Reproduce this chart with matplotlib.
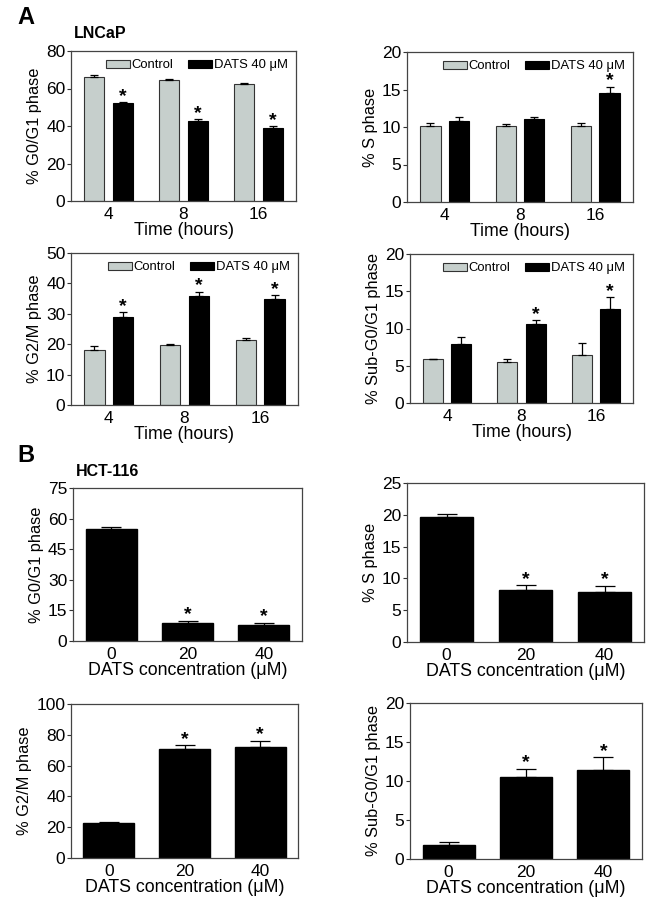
import numpy as np
import matplotlib
matplotlib.use("Agg")
import matplotlib.pyplot as plt

plt.rcParams['font.family'] = ['Liberation Sans', 'DejaVu Sans']

# Panel A - LNCaP, time course (hours)
time_labels = ["4", "8", "16"]
g1_ctrl = [66.2, 64.6, 62.5]
g1_ctrl_err = [1.0, 0.3, 0.5]
g1_dats = [52.2, 42.7, 38.8]
g1_dats_err = [0.7, 1.0, 1.0]

s_ctrl = [10.1, 10.2, 10.2]
s_ctrl_err = [0.4, 0.2, 0.4]
s_dats = [10.8, 11.1, 14.6]
s_dats_err = [0.5, 0.3, 0.8]

g2_ctrl = [18.2, 19.7, 21.5]
g2_ctrl_err = [1.1, 0.4, 0.5]
g2_dats = [28.8, 35.9, 35.0]
g2_dats_err = [1.8, 1.4, 1.2]

sub_ctrl = [5.85, 5.5, 6.5]
sub_ctrl_err = [0.1, 0.4, 1.6]
sub_dats = [7.9, 10.6, 12.65]
sub_dats_err = [1.0, 0.5, 1.6]

# Panel B - HCT-116, dose (uM)
dose_labels = ["0", "20", "40"]
hct_g1 = [55.0, 8.9, 8.0]
hct_g1_err = [0.8, 1.1, 1.0]
hct_s = [19.7, 8.2, 7.9]
hct_s_err = [0.4, 0.75, 0.95]
hct_g2 = [22.9, 70.5, 72.0]
hct_g2_err = [0.2, 2.9, 4.2]
hct_sub = [1.84, 10.5, 11.4]
hct_sub_err = [0.36, 1.1, 1.7]

W, H = 653, 916
fig = plt.figure(figsize=(W / 100, H / 100), dpi=100)
GREY = "#c6cfcc"


def rect(l, r, t, b):
    return [l / W, 1 - b / H, (r - l) / W, (b - t) / H]


def style(ax, ymax, step, ylabel, xlabel, labels):
    ax.set_xlim(-0.5, 2.5)
    ax.set_ylim(0, ymax)
    ax.set_yticks(np.arange(0, ymax + 0.1, step))
    ax.set_xticks(range(3))
    ax.set_xticklabels(labels)
    ax.tick_params(axis='y', direction='out', length=3, width=0.8,
                   labelsize=12.5, pad=1, color='#333333')
    ax.tick_params(axis='x', length=0, labelsize=12.5, pad=4)
    for sp in ax.spines.values():
        sp.set_color('#444444')
        sp.set_linewidth(0.9)
    ax.set_ylabel(ylabel, fontsize=11.8, labelpad=3)
    ax.set_xlabel(xlabel, fontsize=12.8, labelpad=0)


def star(ax, x, top):
    ax.annotate("*", (x, top), xytext=(0, -2), textcoords='offset points',
                ha='center', va='bottom', fontsize=14, fontweight='bold')


def time_panel(r, ctrl, cerr, dats, derr, ymax, step, ylabel, stars):
    ax = fig.add_axes(rect(*r))
    x = np.arange(3)
    w = 0.27
    ax.bar(x - 0.19, ctrl, w, color=GREY, edgecolor='#333333', linewidth=0.8,
           label="Control", yerr=[np.zeros(3), cerr], capsize=3,
           error_kw=dict(ecolor='black', elinewidth=0.9, capthick=0.9))
    ax.bar(x + 0.19, dats, w, color='black', edgecolor='black', linewidth=0.8,
           label="DATS 40 \u03bcM", yerr=[np.zeros(3), derr], capsize=3,
           error_kw=dict(ecolor='black', elinewidth=0.9, capthick=0.9))
    for i in stars:
        star(ax, x[i] + 0.19, dats[i] + derr[i])
    style(ax, ymax, step, ylabel, "Time (hours)", time_labels)
    ax.legend(loc='upper right', ncol=2, frameon=False, fontsize=9.4,
              handlelength=1.8, handleheight=0.6, handletextpad=0.15,
              columnspacing=1.1, borderaxespad=0.25)
    return ax


def dose_panel(r, vals, err, ymax, step, ylabel):
    ax = fig.add_axes(rect(*r))
    x = np.arange(3)
    ax.bar(x, vals, 0.67, color='black', edgecolor='black',
           yerr=[np.zeros(3), err], capsize=7,
           error_kw=dict(ecolor='black', elinewidth=0.9, capthick=0.9))
    for i in [1, 2]:
        star(ax, x[i], vals[i] + err[i])
    style(ax, ymax, step, ylabel, "DATS concentration (\u03bcM)", dose_labels)
    return ax


time_panel((71, 296, 51, 201), g1_ctrl, g1_ctrl_err, g1_dats, g1_dats_err,
           80, 20, "% G0/G1 phase", [0, 1, 2])
time_panel((407, 633, 52, 202), s_ctrl, s_ctrl_err, s_dats, s_dats_err,
           20, 5, "% S phase", [2])
time_panel((71, 298, 253, 405), g2_ctrl, g2_ctrl_err, g2_dats, g2_dats_err,
           50, 10, "% G2/M phase", [0, 1, 2])
time_panel((410, 633, 254, 403), sub_ctrl, sub_ctrl_err, sub_dats, sub_dats_err,
           20, 5, "% Sub-G0/G1 phase", [1, 2])

dose_panel((73, 302, 488, 641), hct_g1, hct_g1_err, 75, 15, "% G0/G1 phase")
dose_panel((407, 644, 483, 642), hct_s, hct_s_err, 25, 5, "% S phase")
dose_panel((71, 298, 704, 858), hct_g2, hct_g2_err, 100, 20, "% G2/M phase")
dose_panel((410, 642, 703, 859), hct_sub, hct_sub_err, 20, 5, "% Sub-G0/G1 phase")

fig.text(17 / W, 1 - 18 / H, "A", fontsize=17, fontweight='bold', va='center')
fig.text(74 / W, 1 - 33 / H, "LNCaP", fontsize=11.5, fontweight='bold', va='center')
fig.text(17 / W, 1 - 455 / H, "B", fontsize=17, fontweight='bold', va='center')
fig.text(76 / W, 1 - 471 / H, "HCT-116", fontsize=11.5, fontweight='bold', va='center')

fig.savefig("out.png", dpi=100)
